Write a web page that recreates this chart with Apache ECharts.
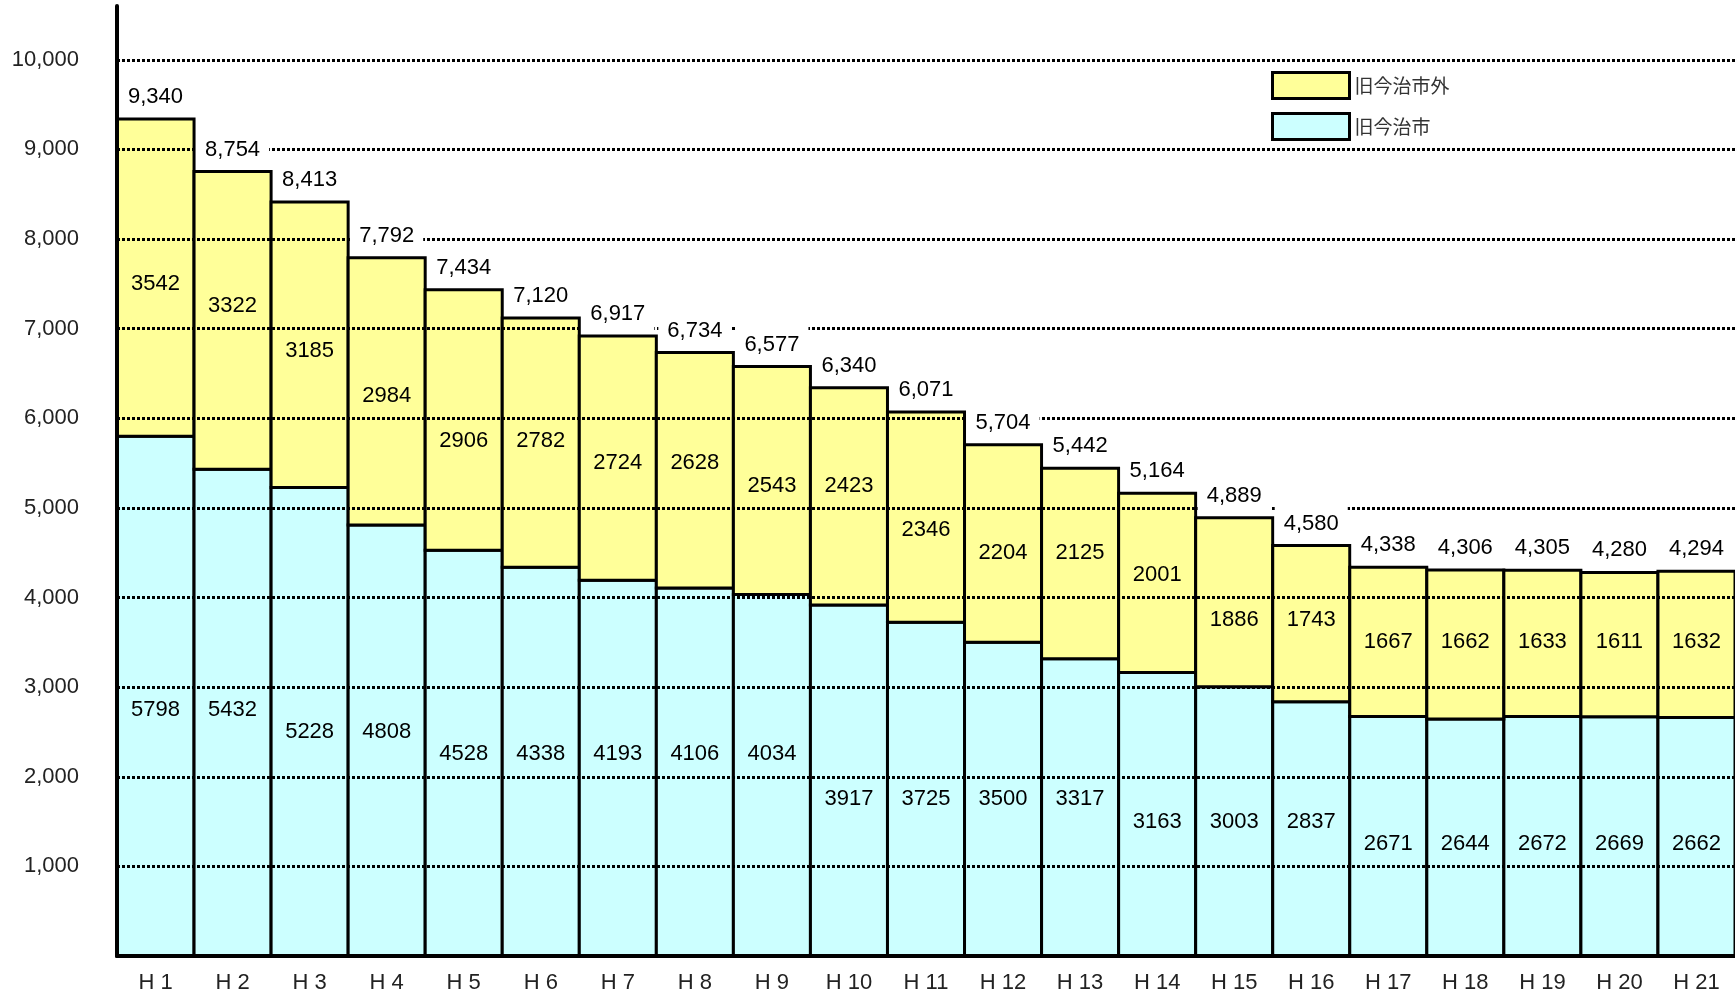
<!DOCTYPE html>
<html>
<head>
<meta charset="utf-8">
<style>
  html, body { margin: 0; padding: 0; background: #fff; }
  #main { width: 1735px; height: 997px; }
</style>
<script src="https://cdn.jsdelivr.net/npm/echarts@6/dist/echarts.min.js"></script>
</head>
<body>
<div id="main"></div>
<script>
// 年度
var categories = ["H 1", "H 2", "H 3", "H 4", "H 5", "H 6", "H 7", "H 8", "H 9", "H 10",
  "H 11", "H 12", "H 13", "H 14", "H 15", "H 16", "H 17", "H 18", "H 19", "H 20", "H 21"];
// 旧今治市
var cityIn = [5798, 5432, 5228, 4808, 4528, 4338, 4193, 4106, 4034, 3917,
  3725, 3500, 3317, 3163, 3003, 2837, 2671, 2644, 2672, 2669, 2662];
// 旧今治市外
var cityOut = [3542, 3322, 3185, 2984, 2906, 2782, 2724, 2628, 2543, 2423,
  2346, 2204, 2125, 2001, 1886, 1743, 1667, 1662, 1633, 1611, 1632];
// 合計
var totals = [9340, 8754, 8413, 7792, 7434, 7120, 6917, 6734, 6577, 6340,
  6071, 5704, 5442, 5164, 4889, 4580, 4338, 4306, 4305, 4280, 4294];
// 目盛り
var gridValues = [1000, 2000, 3000, 4000, 5000, 6000, 7000, 8000, 9000, 10000];

var font = "'Liberation Sans', Arial, sans-serif";
var myChart = echarts.init(document.getElementById("main"));

// ラベルを目盛り線から外す（区間の中央に近い 250 刻み、1000 の倍数は避ける）
function snapLabel(lo, hi) {
  var c = (lo + hi) / 2;
  var best = null;
  for (var v = 250; v < 10600; v += 250) {
    if (v % 1000 === 0) continue;
    if (best === null || Math.abs(v - c) < Math.abs(best - c)) best = v;
  }
  return best;
}

// 積み上げ棒（枠線を棒の境界線上に描く）
function stackItem(fill) {
  return function(params, api) {
    var i = api.value(0);
    var lo = api.value(1);
    var hi = lo + api.value(2);
    var p0 = api.coord([i, lo]);
    var p1 = api.coord([i, hi]);
    var w = api.size([1, 0])[0];
    var pl = api.coord([i, snapLabel(lo, hi)]);
    return {
      type: "group",
      children: [
        {
          type: "rect",
          shape: { x: p0[0] - w / 2, y: p1[1], width: w, height: p0[1] - p1[1] },
          style: { fill: fill, stroke: "#000", lineWidth: 3 }
        },
        {
          type: "text",
          x: pl[0],
          y: pl[1],
          z2: 10,
          style: {
            text: String(api.value(2)),
            fill: "#000",
            font: "22px " + font,
            align: "center",
            verticalAlign: "middle"
          }
        }
      ]
    };
  };
}

myChart.setOption({
  animation: false,
  textStyle: { fontFamily: font },
  grid: { left: 117, right: 0, top: 6, bottom: 41 },
  legend: {
    orient: "vertical",
    left: 1266,
    top: 66,
    itemWidth: 77,
    itemHeight: 26,
    itemGap: 12,
    icon: "rect",
    data: ["旧今治市外", "旧今治市"],
    itemStyle: { borderColor: "#000", borderWidth: 3 },
    textStyle: {
      fontFamily: "'Noto Sans CJK JP', sans-serif",
      fontSize: 19,
      color: "#333"
    }
  },
  xAxis: {
    type: "category",
    z: 20,
    data: categories,
    axisLine: { lineStyle: { color: "#000", width: 4 } },
    axisTick: { show: false },
    axisLabel: { color: "#222", fontSize: 22, margin: 16 }
  },
  yAxis: {
    type: "value",
    z: 20,
    min: 0,
    max: 10600,
    interval: 1000,
    axisLine: { show: true, lineStyle: { color: "#000", width: 4 } },
    axisTick: { show: false },
    splitLine: { show: false },
    axisLabel: {
      color: "#222",
      fontSize: 22,
      margin: 38,
      formatter: function(v) {
        return v > 0 && v % 1000 === 0 ? v.toLocaleString("en-US") : "";
      }
    }
  },
  series: [
    {
      name: "旧今治市",
      type: "custom",
      z: 2,
      itemStyle: { color: "#CCFFFF" },
      encode: { x: 0, y: 1 },
      data: cityIn.map(function(v, i) { return [i, 0, v]; }),
      renderItem: stackItem("#CCFFFF")
    },
    {
      name: "旧今治市外",
      type: "custom",
      z: 2,
      itemStyle: { color: "#FFFF99" },
      encode: { x: 0, y: 1 },
      data: cityOut.map(function(v, i) { return [i, cityIn[i], v]; }),
      renderItem: stackItem("#FFFF99")
    },
    {
      name: "合計",
      type: "custom",
      z: 10,
      encode: { x: 0, y: 1 },
      data: totals.map(function(v, i) { return [i, v]; }),
      renderItem: function(params, api) {
        var p = api.coord([api.value(0), api.value(1)]);
        return {
          type: "text",
          x: p[0],
          y: p[1] - 3,
          style: {
            text: api.value(1).toLocaleString("en-US"),
            fill: "#000",
            font: "22px " + font,
            align: "center",
            verticalAlign: "bottom",
            backgroundColor: "#fff",
            padding: [8, 9]
          }
        };
      },
      markLine: {
        silent: true,
        symbol: "none",
        label: { show: false },
        lineStyle: { color: "#000", width: 3, type: [3, 2] },
        data: gridValues.map(function(v) { return { yAxis: v }; })
      }
    }
  ]
});
</script>
</body>
</html>
